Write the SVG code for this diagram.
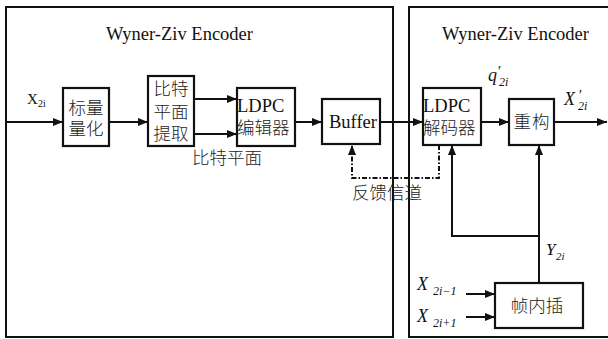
<svg xmlns="http://www.w3.org/2000/svg" width="608" height="339" viewBox="0 0 608 339">
  <style>
    .frame { fill: none; stroke: #111; stroke-width: 2; }
    .box { fill: #fff; stroke: #111; stroke-width: 2.2; }
    .wire { fill: none; stroke: #111; stroke-width: 2; }
    .dashdot { fill: none; stroke: #111; stroke-width: 2; stroke-dasharray: 5 2 1.5 2; }
    .arrow { marker-end: url(#head); }
    .cn { font-family: "Noto Sans CJK SC", "Noto Sans", sans-serif; font-size: 17.5px; font-weight: 300; fill: #222; }
    .lat { font-family: "Liberation Serif", serif; font-size: 18.5px; fill: #111; }
    .math { font-family: "Liberation Serif", serif; font-style: italic; fill: #111; }
    .mid { text-anchor: middle; }
  </style>
  <defs>
    <marker id="head" markerUnits="userSpaceOnUse" markerWidth="11" markerHeight="9" refX="10" refY="4" orient="auto">
      <path d="M0,0 L10,4 L0,8 z" fill="#111"/>
    </marker>
  </defs>

  <rect width="608" height="339" fill="#fff"/>

  <!-- encoder / decoder frames -->
  <g id="encoder-frame">
    <rect class="frame" x="6" y="7" width="387" height="330"/>
    <text class="lat" x="106" y="40">Wyner-Ziv Encoder</text>
  </g>
  <g id="decoder-frame">
    <rect class="frame" x="409" y="7" width="210" height="330"/>
    <text class="lat" x="442" y="40">Wyner-Ziv Encoder</text>
  </g>

  <!-- connectors -->
  <g id="connectors">
    <path class="wire arrow" d="M6,122 H63"/>
    <path class="wire arrow" d="M109,122 H148"/>
    <path class="wire arrow" d="M194,99 H237"/>
    <path class="wire arrow" d="M194,134 H237"/>
    <path class="wire arrow" d="M295,122 H322"/>
    <path class="wire arrow" d="M380,122 H423"/>
    <path class="wire arrow" d="M481,122 H509"/>
    <path class="wire arrow" d="M554,122 H607"/>
    <path class="dashdot arrow" d="M439,145 V178 H352 V145"/>
    <path class="wire arrow" d="M539,283 V145"/>
    <path class="wire arrow" d="M539,236 H452 V145"/>
    <path class="wire arrow" d="M466,294 H495"/>
    <path class="wire arrow" d="M466,317 H495"/>
  </g>

  <!-- nodes -->
  <g id="quantizer">
    <rect class="box" x="63" y="88" width="46" height="58"/>
    <text class="cn mid" x="86" y="114">标量<tspan x="86" y="135">量化</tspan></text>
  </g>
  <g id="bitplane-extract">
    <rect class="box" x="148" y="76" width="46" height="70"/>
    <text class="cn mid" x="171" y="95">比特<tspan x="171" y="118">平面</tspan><tspan x="171" y="140">提取</tspan></text>
  </g>
  <g id="ldpc-encoder">
    <rect class="box" x="237" y="88" width="58" height="58"/>
    <text class="lat" x="237" y="112" font-size="19">LDPC<tspan class="cn" x="237" y="134">编辑器</tspan></text>
  </g>
  <g id="buffer">
    <rect class="box" x="322" y="99" width="58" height="45"/>
    <text class="lat" x="329" y="128">Buffer</text>
  </g>
  <g id="ldpc-decoder">
    <rect class="box" x="423" y="88" width="58" height="57"/>
    <text class="lat" x="423" y="112" font-size="19">LDPC<tspan class="cn" x="423" y="134">解码器</tspan></text>
  </g>
  <g id="reconstruct">
    <rect class="box" x="509" y="99" width="45" height="46"/>
    <text class="cn mid" x="532" y="128" letter-spacing="1">重构</text>
  </g>
  <g id="interpolate">
    <rect class="box" x="495" y="283" width="88" height="45"/>
    <text class="cn mid" x="537" y="312">帧内插</text>
  </g>

  <!-- labels -->
  <g id="labels">
    <text class="cn" x="192" y="164">比特平面</text>
    <text class="cn" x="352" y="199">反馈信道</text>
    <text font-family="Liberation Serif, serif" font-size="15" fill="#111" x="27" y="104">X<tspan font-size="10" x="38" y="107">2i</tspan></text>
    <text class="math" font-size="18" x="488" y="81">q<tspan font-size="15" x="497" y="76">′</tspan><tspan font-size="12" x="499" y="86">2i</tspan></text>
    <text class="math" font-size="18" x="564" y="105">X<tspan font-size="15" x="578" y="100">′</tspan><tspan font-size="12" x="578" y="110">2i</tspan></text>
    <text class="math" font-size="17" x="546" y="255">Y<tspan font-size="11" x="556" y="260">2i</tspan></text>
    <text class="math" font-size="18" x="417" y="290">X<tspan font-size="12" x="433" y="295">2i−1</tspan></text>
    <text class="math" font-size="18" x="417" y="322">X<tspan font-size="12" x="433" y="327">2i+1</tspan></text>
  </g>
</svg>
